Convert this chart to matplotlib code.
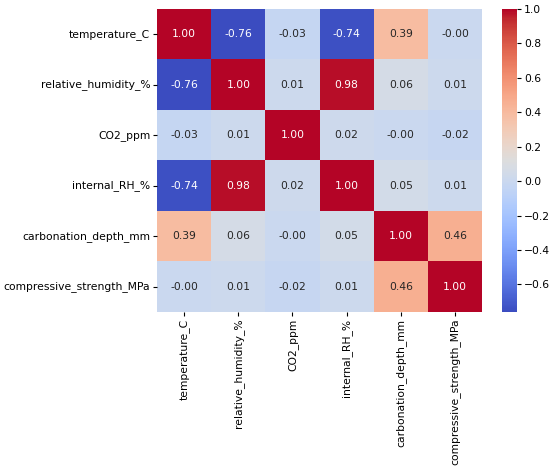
import numpy as np
import pandas as pd
import matplotlib
matplotlib.use("Agg")
import matplotlib.pyplot as plt
import seaborn as sns

labels = [
    "temperature_C",
    "relative_humidity_%",
    "CO2_ppm",
    "internal_RH_%",
    "carbonation_depth_mm",
    "compressive_strength_MPa",
]

corr_values = [
    [1.00, -0.76, -0.03, -0.74, 0.39, -0.00],
    [-0.76, 1.00, 0.01, 0.98, 0.06, 0.01],
    [-0.03, 0.01, 1.00, 0.02, -0.00, -0.02],
    [-0.74, 0.98, 0.02, 1.00, 0.05, 0.01],
    [0.39, 0.06, -0.00, 0.05, 1.00, 0.46],
    [-0.00, 0.01, -0.02, 0.01, 0.46, 1.00],
]

corr = pd.DataFrame(corr_values, index=labels, columns=labels)

plt.rcParams["font.size"] = 7.75
plt.rcParams["xtick.major.size"] = 2.7
plt.rcParams["ytick.major.size"] = 2.7
plt.rcParams["xtick.major.pad"] = 2.2
plt.rcParams["ytick.major.pad"] = 2.2

fig = plt.figure(figsize=(5.5, 4.67), dpi=100)
ax = fig.add_axes([0.2855, 0.332, 0.591, 0.649])
cax = fig.add_axes([0.9127, 0.332, 0.0273, 0.649])

sns.heatmap(
    corr,
    annot=True,
    fmt=".2f",
    cmap="coolwarm",
    ax=ax,
    cbar_ax=cax,
    annot_kws={"size": 7.75},
)
ax.tick_params(axis="x", labelrotation=90)
ax.tick_params(axis="y", labelrotation=0)

fig.savefig("out.png")
